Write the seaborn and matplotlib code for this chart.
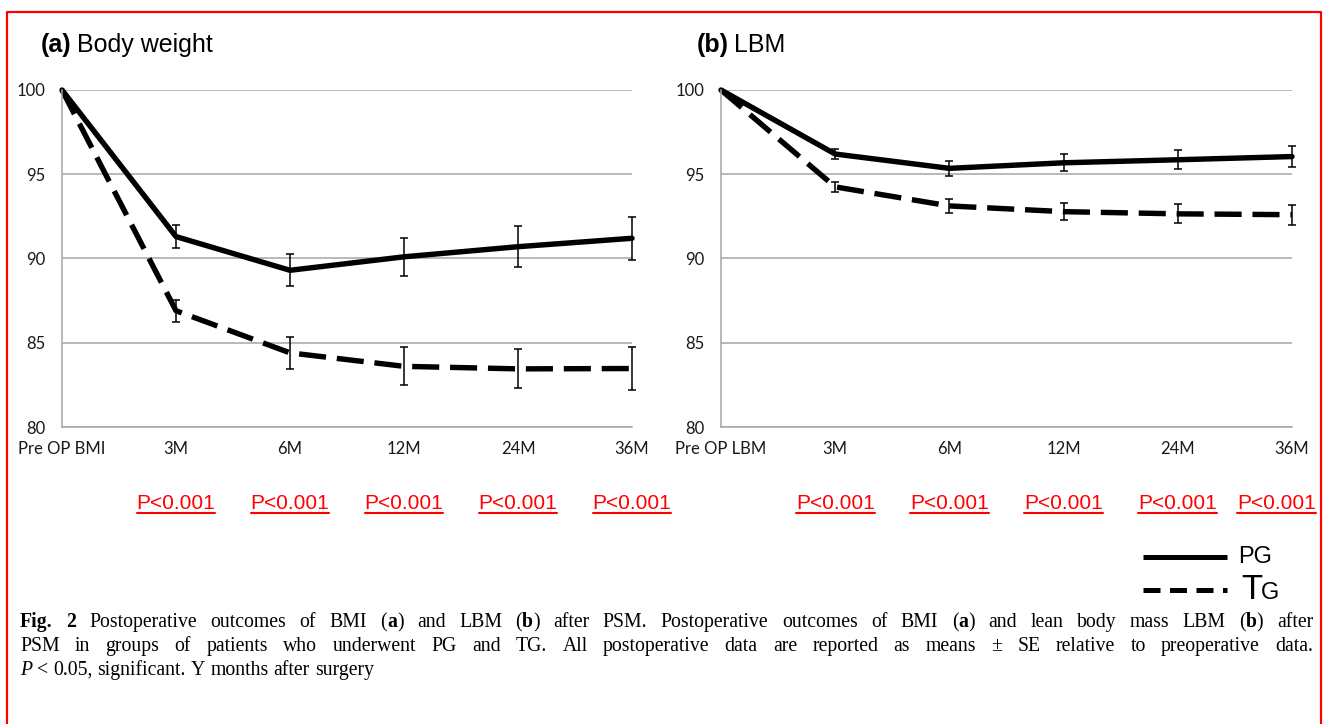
import numpy as np
import pandas as pd
import matplotlib
matplotlib.use("Agg")
import matplotlib.pyplot as plt
import seaborn as sns
from matplotlib.lines import Line2D

# ---- data ----
time_labels_a = ["Pre OP BMI", "3M", "6M", "12M", "24M", "36M"]
time_labels_b = ["Pre OP LBM", "3M", "6M", "12M", "24M", "36M"]

bw_pg = [100, 91.3, 89.3, 90.1, 90.7, 91.2]
bw_pg_se = [0, 0.67, 0.96, 1.13, 1.2, 1.27]
bw_tg = [100, 86.9, 84.4, 83.6, 83.45, 83.47]
bw_tg_se = [0, 0.66, 0.94, 1.12, 1.15, 1.27]

lbm_pg = [100, 96.2, 95.35, 95.68, 95.86, 96.05]
lbm_pg_se = [0, 0.29, 0.43, 0.5, 0.56, 0.6]
lbm_tg = [100, 94.25, 93.12, 92.78, 92.65, 92.6]
lbm_tg_se = [0, 0.29, 0.43, 0.52, 0.56, 0.6]

p_labels_a = ["P<0.001", "P<0.001", "P<0.001", "P<0.001", "P<0.001"]
p_labels_b = ["P<0.001", "P<0.001", "P<0.001", "P<0.001", "P<0.001"]

W, H = 1326, 724
sns.set_style("white")
plt.rcParams["font.family"] = ["Liberation Sans", "DejaVu Sans"]
plt.rcParams["text.color"] = "black"

fig = plt.figure(figsize=(W / 100, H / 100), dpi=100)
renderer = fig.canvas.get_renderer()


def fx(x):
    return x / W


def fy(y):
    return 1 - y / H


GRID = "#a6a6a6"
DASH = (5.0, 2.0)


def make_panel(ax, labels, pg, pg_se, tg, tg_se):
    n = len(labels)
    df = pd.DataFrame({
        "t": list(range(n)) * 2,
        "value": pg + tg,
        "group": ["PG"] * n + ["TG"] * n,
    })
    sns.lineplot(data=df, x="t", y="value", style="group",
                 dashes={"PG": "", "TG": DASH}, color="black",
                 linewidth=3.9, legend=False, ax=ax)
    for line in ax.lines:
        line.set_clip_on(False)
        line.set_solid_joinstyle("round")
        line.set_dash_joinstyle("round")
    x = np.arange(1, n)
    ax.errorbar(x, pg[1:], yerr=pg_se[1:], fmt="none", ecolor="black",
                elinewidth=1.1, capsize=3, capthick=1.1, clip_on=False, zorder=5)
    ax.errorbar(x, tg[1:], yerr=tg_se[1:], fmt="none", ecolor="black",
                elinewidth=1.1, capsize=3, capthick=1.1, clip_on=False, zorder=5)

    ax.set_xlim(0, n - 1)
    ax.set_ylim(80, 100)
    ax.set_yticks([80, 85, 90, 95, 100])
    ax.set_xticks(range(n))
    ax.set_xticklabels(labels)
    ax.set_xlabel("")
    ax.set_ylabel("")
    ax.grid(axis="y", color=GRID, linewidth=1.1)
    ax.set_axisbelow(True)
    for s in ["top", "right"]:
        ax.spines[s].set_visible(False)
    for s in ["left", "bottom"]:
        ax.spines[s].set_color(GRID)
        ax.spines[s].set_linewidth(1.1)
    ax.tick_params(axis="x", length=5, color=GRID, width=1.1, pad=5,
                   labelsize=12, labelcolor="#1a1a1a")
    ax.tick_params(axis="y", length=0, pad=12, labelsize=12, labelcolor="#1a1a1a")
    for lab in ax.get_xticklabels() + ax.get_yticklabels():
        lab.set_family(["Lato", "DejaVu Sans"])


ax_a = fig.add_axes([fx(62), fy(427), 570 / W, 337 / H])
ax_b = fig.add_axes([fx(721), fy(427), 571 / W, 337 / H])
make_panel(ax_a, time_labels_a, bw_pg, bw_pg_se, bw_tg, bw_tg_se)
make_panel(ax_b, time_labels_b, lbm_pg, lbm_pg_se, lbm_tg, lbm_tg_se)


# ---- panel titles ----
def title(x, y, bold, rest):
    t = fig.text(fx(x), fy(y), bold, fontsize=18, fontweight="bold", va="baseline")
    bb = t.get_window_extent(renderer)
    fig.text(fx(bb.x1 + 5), fy(y), rest, fontsize=18, va="baseline")


title(41, 52, "(a)", "Body weight")
title(697, 52, "(b)", "LBM")


# ---- P value labels, underlined, under each category ----
def p_row(ax, labels, max_right):
    for i, lab in enumerate(labels):
        xd = ax.transData.transform((i + 1, 80))[0]
        t = fig.text(fx(xd), fy(509), lab, fontsize=15, color="red",
                     ha="center", va="baseline")
        bb = t.get_window_extent(renderer)
        if bb.x1 > max_right:
            shift = bb.x1 - max_right
            t.set_x(fx(xd - shift))
            bb = t.get_window_extent(renderer)
        fig.add_artist(Line2D([fx(bb.x0), fx(bb.x1)], [fy(513), fy(513)],
                              color="red", linewidth=1.5))


p_row(ax_a, p_labels_a, 1316)
p_row(ax_b, p_labels_b, 1316)

# ---- legend ----
fig.add_artist(Line2D([fx(1143), fx(1227)], [fy(557), fy(557)], color="black",
                      linewidth=3.6, solid_capstyle="butt"))
fig.add_artist(Line2D([fx(1143), fx(1227)], [fy(590), fy(590)], color="black",
                      linewidth=3.6, dashes=(3.4, 1.9), dash_capstyle="butt"))
fig.text(fx(1238), fy(563), "PG", fontsize=17, va="baseline")
t_big = fig.text(fx(1241), fy(599), "T", fontsize=25, va="baseline")
bb = t_big.get_window_extent(renderer)
fig.text(fx(bb.x1 - 1), fy(599), "G", fontsize=17, va="baseline")

# ---- caption (justified, Times-like) ----
cap_font = ["Liberation Serif", "DejaVu Serif"]
N, B, I = "normal", "bold", "italic"
caption_lines = [
    [[("Fig.", B)], [("2", B)], [("Postoperative", N)], [("outcomes", N)], [("of", N)],
     [("BMI", N)], [("(", N), ("a", B), (")", N)], [("and", N)], [("LBM", N)],
     [("(", N), ("b", B), (")", N)], [("after", N)], [("PSM.", N)], [("Postoperative", N)],
     [("outcomes", N)], [("of", N)], [("BMI", N)], [("(", N), ("a", B), (")", N)],
     [("and", N)], [("lean", N)], [("body", N)], [("mass", N)], [("LBM", N)],
     [("(", N), ("b", B), (")", N)], [("after", N)]],
    [[(w, N)] for w in ("PSM in groups of patients who underwent PG and TG. All "
                        "postoperative data are reported as means \u00b1 SE relative "
                        "to preoperative data.").split()],
    [[("P", I)], [("<", N)], [("0.05,", N)], [("significant.", N)], [("Y", N)],
     [("months", N)], [("after", N)], [("surgery", N)]],
]
caption_y = [627, 651, 675]
cap_x0, cap_x1 = 20, 1313


def piece_text(x, y, s, kind):
    kw = dict(fontsize=14.2, family=cap_font, va="baseline", color="black")
    if kind == B:
        kw["fontweight"] = "bold"
    if kind == I:
        kw["fontstyle"] = "italic"
    return fig.text(fx(x), fy(y), s, **kw)


for li, (words, y) in enumerate(zip(caption_lines, caption_y)):
    placed = []
    widths = []
    for word in words:
        arts = []
        w = 0
        for s, kind in word:
            t = piece_text(0, y, s, kind)
            arts.append((t, w))
            w += t.get_window_extent(renderer).width
        placed.append(arts)
        widths.append(w)
    space = piece_text(0, y, "a b", N).get_window_extent(renderer).width - \
        piece_text(0, y, "ab", N).get_window_extent(renderer).width
    fig.texts = fig.texts[:-2]
    if li < len(caption_lines) - 1:
        gap = (cap_x1 - cap_x0 - sum(widths)) / (len(words) - 1)
    else:
        gap = space
    x = cap_x0
    for arts, w in zip(placed, widths):
        for t, off in arts:
            t.set_x(fx(x + off))
        x += w + gap

# ---- red frame (open at bottom) ----
fig.add_artist(Line2D([fx(7), fx(7), fx(1321), fx(1321)],
                      [fy(H + 5), fy(12), fy(12), fy(H + 5)],
                      color="red", linewidth=1.6, clip_on=False))

fig.savefig("out.png", dpi=100)
